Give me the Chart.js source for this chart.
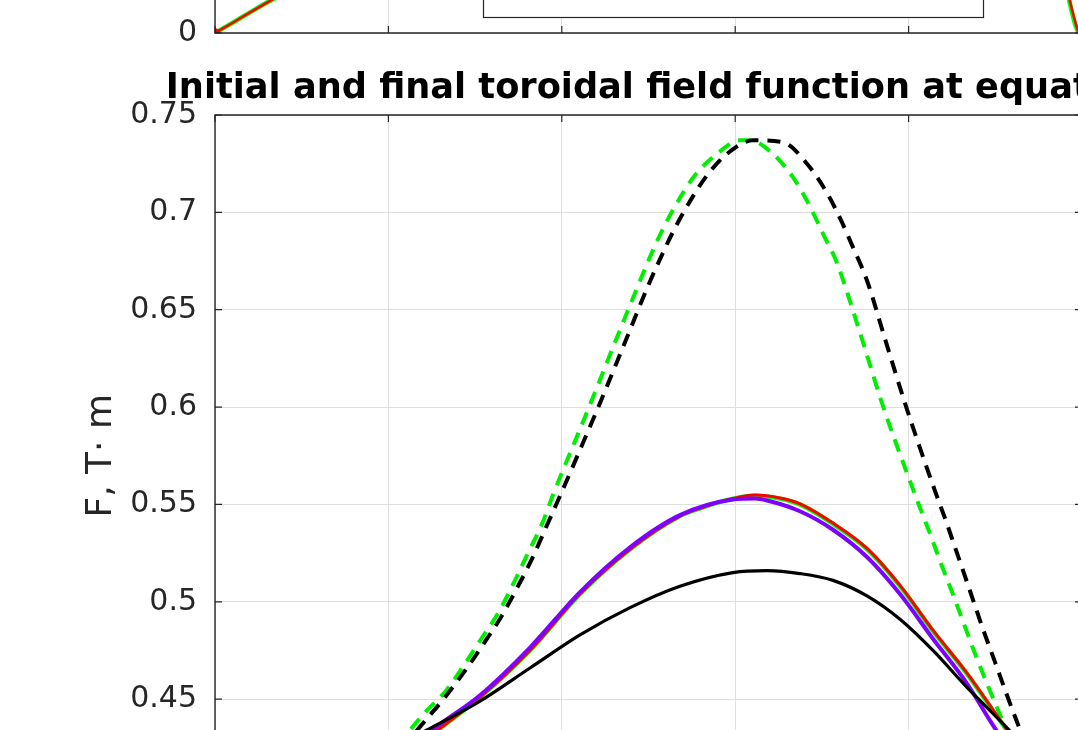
<!DOCTYPE html>
<html>
<head>
<meta charset="utf-8">
<script src="https://cdn.jsdelivr.net/npm/chart.js@4/dist/chart.umd.min.js"></script>
<style>
html,body{margin:0;padding:0;background:#fff;overflow:hidden;width:1078px;height:730px;}
#wrap{position:relative;width:1078px;height:730px;overflow:hidden;}
canvas{position:absolute;left:0;}
#top{top:-361px;}
#bot{top:0;}
</style>
</head>
<body>
<div id="wrap">
<canvas id="bot" width="1100" height="880" style="width:1100px;height:880px"></canvas>
<canvas id="top" width="1100" height="430" style="width:1100px;height:430px"></canvas>
</div>
<script>
// ---------- data: lower panel (F at equator, T·m) ----------
const xTickValues = [0, 0.2, 0.4, 0.6, 0.8, 1];
const yTickValues = [0.45, 0.5, 0.55, 0.6, 0.65, 0.7, 0.75];
const yTickLabels = ['0.45', '0.5', '0.55', '0.6', '0.65', '0.7', '0.75'];

const initDashX = [0.2157,0.2445,0.2653,0.2907,0.3114,0.3310,0.3483,0.3656,0.3806,0.3956,0.4200,0.4440,0.4717,0.4983,0.5133,0.5283,0.5456,0.5675,0.5905,0.6205,0.6551,0.6828,0.7059,0.7209,0.7359,0.7520,0.7728,0.7958,0.8131,0.8304,0.8443,0.8535,0.8651,0.8743,0.8858,0.8997,0.9135,0.9262,0.9412];
const initDashY = [0.425,0.440,0.451,0.466,0.4795,0.493,0.507,0.522,0.537,0.552,0.577,0.602,0.632,0.661,0.676,0.690,0.704,0.719,0.730,0.737,0.736,0.725,0.710,0.697,0.682,0.665,0.635,0.602,0.579,0.557,0.540,0.528,0.513,0.501,0.486,0.469,0.452,0.437,0.421];

const finalDashX = [0.2099,0.2399,0.2676,0.2849,0.3057,0.3276,0.3449,0.3610,0.3772,0.3899,0.4129,0.4360,0.4602,0.4867,0.5006,0.5150,0.5317,0.5536,0.5790,0.6055,0.6171,0.6436,0.6667,0.6863,0.7013,0.7174,0.7290,0.7497,0.7693,0.7866,0.8016,0.8108,0.8247,0.8362,0.8501,0.8627,0.8743,0.8904,0.9054,0.9308];
const finalDashY = [0.426,0.442,0.455,0.466,0.480,0.495,0.510,0.525,0.540,0.555,0.580,0.605,0.632,0.661,0.676,0.690,0.704,0.719,0.730,0.737,0.737,0.730,0.718,0.703,0.689,0.674,0.659,0.630,0.602,0.580,0.562,0.551,0.535,0.521,0.505,0.490,0.476,0.458,0.442,0.416];

const blackX = [0.2000,0.2480,0.3057,0.3633,0.4210,0.4787,0.5363,0.5975,0.6367,0.6747,0.7128,0.7520,0.7901,0.8281,0.8674,0.9054,0.9400];
const blackY = [0.424,0.435,0.449,0.466,0.483,0.497,0.508,0.515,0.516,0.5145,0.511,0.503,0.491,0.475,0.456,0.439,0.423];

const purpleX = [0.2000,0.2561,0.3057,0.3633,0.4210,0.4787,0.5363,0.5975,0.6228,0.6367,0.6747,0.7128,0.7520,0.7901,0.8281,0.8674,0.8939,0.9400];
const purpleY = [0.416,0.436,0.452,0.4765,0.505,0.528,0.5445,0.5525,0.553,0.552,0.5465,0.537,0.523,0.504,0.481,0.458,0.439,0.408];

const redX = [0.2000,0.2595,0.3057,0.3633,0.4210,0.4787,0.5363,0.5594,0.5975,0.6228,0.6517,0.6747,0.7128,0.7520,0.7901,0.8281,0.8674,0.9054,0.9400];
const redY = [0.415,0.435,0.451,0.475,0.504,0.527,0.544,0.548,0.553,0.5548,0.5533,0.5503,0.5404,0.5274,0.5084,0.4854,0.4634,0.4394,0.4174];

const greenX = [0.2000,0.2595,0.3057,0.3633,0.4210,0.4787,0.5363,0.5594,0.5975,0.6228,0.6517,0.6747,0.7128,0.7520,0.7901,0.8281,0.8674,0.9054,0.9400];
const greenY = [0.415,0.435,0.451,0.475,0.504,0.527,0.544,0.548,0.553,0.5545,0.553,0.550,0.540,0.527,0.508,0.485,0.463,0.439,0.417];

// ---------- data: upper panel (only its bottom strip is visible) ----------
const topX      = [0, 0.02, 0.04, 0.06, 0.09, 0.14, 0.5, 0.86, 0.93, 0.96, 0.975, 0.986, 0.992, 0.996];
const topGreen  = [0, 0.028, 0.057, 0.085, 0.125, 0.19, 0.95, 0.9, 0.55, 0.33, 0.2, 0.083, 0.025, 0];
const topBlack  = [0, 0.027, 0.056, 0.084, 0.124, 0.19, 0.95, 0.9, 0.55, 0.33, 0.2, 0.085, 0.027, 0];
const topPurple = [0, 0.029, 0.058, 0.086, 0.126, 0.19, 0.95, 0.9, 0.55, 0.33, 0.2, 0.082, 0.024, 0];
const topRed    = [0, 0.028, 0.057, 0.085, 0.125, 0.19, 0.95, 0.9, 0.56, 0.34, 0.21, 0.09, 0.033, 0];
const topYTicks = [0];
const topYLabels = ['0'];

const TITLE = 'Initial and final toroidal field function at equator';
const YLABEL = 'F, T\u00B7 m';

const pts = (xs, ys) => xs.map((x, i) => ({x: x, y: ys[i]}));
const AX = '#262626';
const GRID = '#dedede';

const framePlugin = {
  id: 'frame',
  afterDraw(chart, args, o) {
    const ctx = chart.ctx, a = chart.chartArea, xs = chart.scales.x, ys = chart.scales.y;
    ctx.save();
    if (o.legendBox) {
      const b = o.legendBox;
      ctx.fillStyle = '#fff';
      ctx.fillRect(b[0], b[1], b[2] - b[0], b[3] - b[1]);
      ctx.strokeStyle = AX; ctx.lineWidth = 1.2;
      ctx.strokeRect(b[0] + 0.5, b[1] + 0.5, b[2] - b[0], b[3] - b[1]);
    }
    ctx.strokeStyle = AX; ctx.lineWidth = 1.4;
    ctx.beginPath();
    ctx.rect(a.left, a.top, a.right - a.left, a.bottom - a.top);
    ctx.stroke();
    ctx.lineWidth = 1.2;
    ctx.beginPath();
    const tl = 7;
    xTickValues.forEach(v => {
      const px = xs.getPixelForValue(v);
      ctx.moveTo(px, a.top); ctx.lineTo(px, a.top + tl);
      ctx.moveTo(px, a.bottom); ctx.lineTo(px, a.bottom - tl);
    });
    (o.yTicks || []).forEach(v => {
      const py = ys.getPixelForValue(v);
      ctx.moveTo(a.left, py); ctx.lineTo(a.left + tl, py);
      ctx.moveTo(a.right, py); ctx.lineTo(a.right - tl, py);
    });
    ctx.stroke();
    if (o.title) {
      ctx.fillStyle = '#000';
      ctx.font = 'bold 35.2px "DejaVu Sans"';
      ctx.textAlign = 'center';
      ctx.textBaseline = 'alphabetic';
      ctx.fillText(o.title, (a.left + a.right) / 2, 98);
    }
    if (o.ylabel) {
      ctx.fillStyle = AX;
      ctx.font = '36px "DejaVu Sans"';
      ctx.translate(102, (a.top + a.bottom) / 2);
      ctx.rotate(-Math.PI / 2);
      ctx.textAlign = 'center';
      ctx.textBaseline = 'middle';
      ctx.fillText(o.ylabel, 0, 0);
    }
    ctx.restore();
  }
};

function xScale() {
  return {
    type: 'linear', min: 0, max: 1,
    afterBuildTicks: s => { s.ticks = xTickValues.map(v => ({value: v})); },
    afterFit: s => { s.height = 0; },
    ticks: {display: false},
    grid: {color: GRID, lineWidth: 1, drawTicks: false},
    border: {display: false}
  };
}

const line = (data, color, width, dash) => ({
  data: data, borderColor: color, backgroundColor: color, borderWidth: width,
  borderDash: dash || [], pointRadius: 0, fill: false,
  cubicInterpolationMode: 'monotone', borderCapStyle: 'butt', borderJoinStyle: 'round'
});

Chart.defaults.font.family = '"DejaVu Sans"';
Chart.defaults.color = AX;

// lower panel
new Chart(document.getElementById('bot'), {
  type: 'line',
  data: {
    datasets: [
      line(pts(blackX, blackY), '#000000', 3.2),
      line(pts(initDashX, initDashY), '#000000', 4, [13, 9]),
      line(pts(purpleX, purpleY), '#7f00ff', 4),
      line(pts(redX, redY), '#ff0000', 3),
      line(pts(finalDashX, finalDashY), '#00ee00', 4, [13, 9]),
      line(pts(greenX, greenY), '#00ff00', 4.5)
    ]
  },
  options: {
    responsive: false, animation: false, events: [],
    layout: {padding: {top: 115, right: 18, bottom: 83.5, left: 0}},
    plugins: {legend: {display: false}, tooltip: {enabled: false},
      frame: {title: TITLE, ylabel: YLABEL, yTicks: yTickValues}},
    scales: {
      x: xScale(),
      y: {
        type: 'linear', min: 0.4, max: 0.75,
        afterBuildTicks: s => { s.ticks = yTickValues.map(v => ({value: v})); },
        afterFit: s => { s.width = 215; },
        ticks: {padding: 18, font: {size: 30}, color: AX,
          callback: v => { const i = yTickValues.indexOf(v); return i >= 0 ? yTickLabels[i] : ''; }},
        grid: {color: GRID, lineWidth: 1, drawTicks: false},
        border: {display: false}
      }
    }
  },
  plugins: [framePlugin]
});

// upper panel (mostly above the window)
new Chart(document.getElementById('top'), {
  type: 'line',
  data: {
    datasets: [
      Object.assign(line(pts(topX, topRed), '#ff0000', 2.5), {pointRadius: c => c.dataIndex === 0 ? 3.5 : 0}),
      line(pts(topX, topGreen), '#00ff00', 4.5),
      line(pts(topX, topPurple), '#7f00ff', 1.5, [1.5, 5]),
      line(pts(topX, topBlack), '#000000', 2, [2, 6])
    ]
  },
  options: {
    responsive: false, animation: false, events: [],
    layout: {padding: {top: 0, right: 18, bottom: 25, left: 0}},
    plugins: {legend: {display: false}, tooltip: {enabled: false},
      frame: {yTicks: topYTicks, legendBox: [483, 0, 983, 378]}},
    scales: {
      x: xScale(),
      y: {
        type: 'linear', min: 0, max: 1,
        afterBuildTicks: s => { s.ticks = topYTicks.map(v => ({value: v})); },
        afterFit: s => { s.width = 215; },
        ticks: {padding: 18, font: {size: 30}, color: AX,
          callback: v => { const i = topYTicks.indexOf(v); return i >= 0 ? topYLabels[i] : ''; }},
        grid: {color: GRID, lineWidth: 1, drawTicks: false},
        border: {display: false}
      }
    }
  },
  plugins: [framePlugin]
});
</script>
</body>
</html>
